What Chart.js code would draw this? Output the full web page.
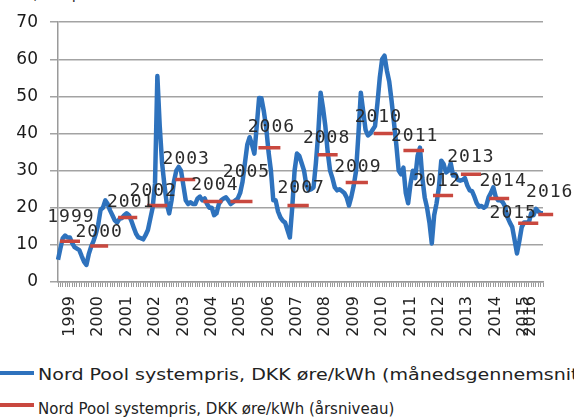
<!DOCTYPE html>
<html>
<head>
<meta charset="utf-8">
<script src="https://cdn.jsdelivr.net/npm/chart.js@4.4.0/dist/chart.umd.min.js"></script>
<style>
  html, body { margin: 0; padding: 0; background: #fff; overflow: hidden; }
  #wrap { position: relative; width: 574px; height: 418px; overflow: hidden; }
  #unit { position: absolute; left: 2px; top: -15px; font: 15px "DejaVu Sans"; color: #333; white-space: nowrap; }
  #chart { position: absolute; left: 0; top: 0; }
  .line { position: absolute; left: 0; width: 34px; height: 4px; }
  .txt { position: absolute; left: 38px; font: 15px/18px "DejaVu Sans"; color: #222; white-space: nowrap; }
  .wide { transform: scaleX(1.27); transform-origin: 0 50%; }
</style>
</head>
<body>
<div id="wrap">
  <div id="unit">DKK, øre pr. kWh</div>
  <canvas id="chart" width="574" height="345"></canvas>
  <div class="line" style="top:371px;background:#2e72bd"></div>
  <div class="txt wide" style="top:366px">Nord Pool systempris, DKK øre/kWh (månedsgennemsnit)</div>
  <div class="line" style="top:403px;background:#c9483f"></div>
  <div class="txt" style="top:400px">Nord Pool systempris, DKK øre/kWh (årsniveau)</div>
</div>
<script>
// year labels on the x axis and the month index they sit under
const yearTicks = ['1999', '2000', '2001', '2002', '2003', '2004', '2005', '2006', '2007',
    '2008', '2009', '2010', '2011', '2012', '2013', '2014', '2015', '2016'];
const yearTickAt = [5, 17, 29, 41, 53, 65, 77, 89, 101, 113, 125, 137, 149, 161, 173, 185, 197, 200];

// monthly system price, DKK øre/kWh
const monthly = [
    6, 9, 11.8, 12.5, 12, 12, 10.5, 9.4, 9, 8.6, 7, 5.5,
    4.6, 7.5, 9.5, 11, 13, 15.5, 19.5, 20, 22, 21, 19.3, 18,
    16.6, 16, 17, 17.2, 18, 18.5, 18, 16.5, 14.7, 13, 12, 11.8,
    11.5, 12.6, 14, 17, 20, 26.5, 55.5, 42, 32, 26, 21, 18.5,
    22, 27, 30, 31, 30, 26, 22, 21, 21.5, 21, 21, 22.5,
    23, 22, 22.5, 21, 20, 20, 18, 18.5, 21, 22, 22.5, 22.8,
    22, 21, 21.5, 22, 22.5, 24, 27, 32, 37, 39, 37, 34.6,
    42, 49.6, 49.5, 46, 41.6, 35, 30, 22, 22, 19, 17.4, 16.5,
    16, 14, 12, 20, 30, 34.6, 34, 32, 30, 26, 24.7, 25,
    25.5, 32, 40, 51, 47, 42, 35, 30, 28, 25.5, 24.7, 25,
    24.5, 24, 22.8, 20.6, 23, 26, 30, 40, 51, 46, 41, 39.5,
    40, 41, 42, 48, 55, 60, 61, 57, 54, 48.8, 43, 37,
    30, 29, 30.8, 24, 21.2, 26.5, 30, 28, 34, 36.2, 28, 22.8,
    20, 16, 10.4, 18, 21.2, 25.5, 32.7, 31.8, 29.5, 30, 32, 28.7,
    29, 27.5, 27.3, 27.5, 28, 26, 24.7, 24.5, 23, 21.2, 20.3, 20.5,
    20, 20.5, 22.8, 24, 25.5, 23, 22, 22, 21.5, 20.3, 17.4, 16,
    14.8, 11.3, 7.7, 11, 14.8, 16, 16, 16, 18.5, 18, 19.7, 19,
    18.5, 18.5
];

// yearly level, DKK øre/kWh, and the span of months each bar covers
const annualYears = ['1999', '2000', '2001', '2002', '2003', '2004', '2005', '2006', '2007',
    '2008', '2009', '2010', '2011', '2012', '2013', '2014', '2015', '2016'];
const annualValues = [11, 9.7, 17.4, 20.6, 27.6, 21.7, 21.7, 36.2, 20.6,
    34.3, 26.8, 40, 35.4, 23.3, 29, 22.5, 15.8, 18.2];
const annualFrom = [0.8, 13.6, 25.4, 37.7, 49.6, 61.4, 72.9, 84.7, 97,
    109.7, 121.6, 133.5, 146, 158.5, 170.3, 182.2, 194.5, 203];
const annualTo = [9.3, 21.2, 33.5, 46.2, 58, 69.5, 82.2, 94, 106,
    118.2, 131, 141.5, 154.7, 167, 178.8, 190.7, 203, 209.3];

// pixel nudges for the year labels (layout only)
const labelNudge = [[1, -19], [0, -9], [3, -10], [-4, -10], [1, -16], [2, -11], [5, -24], [2, -16], [3, -13],
    [-1, -12], [1, -11], [-5, -12], [1, -10], [-6, -10], [0, -12], [4, -12], [-15, -5], [4, -17]];

const xLabels = monthly.map(() => '');
yearTickAt.forEach((at, i) => { xLabels[at] = yearTicks[i]; });

const annualPoints = [];
annualValues.forEach((v, i) => {
    annualPoints.push({ x: annualFrom[i], y: v });
    annualPoints.push({ x: annualTo[i], y: v });
    annualPoints.push({ x: annualTo[i] + 0.01, y: null });
});

const yearLabels = {
    id: 'yearLabels',
    afterDatasetsDraw(chart) {
        const ctx = chart.ctx;
        const sx = chart.scales.x2;
        const sy = chart.scales.y;
        ctx.save();
        ctx.font = '18px "DejaVu Sans Mono"';
        ctx.letterSpacing = '1px';
        ctx.fillStyle = '#2b2b2b';
        ctx.textAlign = 'center';
        ctx.textBaseline = 'alphabetic';
        annualYears.forEach((yr, i) => {
            const cx = sx.getPixelForValue((annualFrom[i] + annualTo[i]) / 2);
            const cy = sy.getPixelForValue(annualValues[i]);
            ctx.fillText(yr, cx + labelNudge[i][0], cy + labelNudge[i][1]);
        });
        ctx.restore();
    }
};

new Chart(document.getElementById('chart').getContext('2d'), {
    type: 'line',
    data: {
        labels: xLabels,
        datasets: [
            {
                label: 'Nord Pool systempris, DKK øre/kWh (årsniveau)',
                data: annualPoints,
                xAxisID: 'x2',
                borderColor: '#c9483f',
                borderWidth: 3.5,
                pointRadius: 0,
                spanGaps: false,
                clip: false,
                order: 0
            },
            {
                label: 'Nord Pool systempris, DKK øre/kWh (månedsgennemsnit)',
                data: monthly,
                borderColor: '#2e72bd',
                borderWidth: 4.5,
                borderJoinStyle: 'round',
                pointRadius: 0,
                tension: 0,
                order: 1
            }
        ]
    },
    options: {
        responsive: false,
        animation: false,
        layout: { padding: { top: 12, right: 31, left: 0, bottom: 0 } },
        plugins: {
            legend: { display: false },
            tooltip: { enabled: false }
        },
        scales: {
            x: {
                afterFit: s => { s.height = 63; },
                grid: { drawOnChartArea: false, tickLength: 5, color: '#9a9a9a' },
                border: { color: '#9a9a9a', width: 1.5 },
                ticks: {
                    autoSkip: false,
                    minRotation: 90,
                    maxRotation: 90,
                    padding: 9,
                    color: '#222',
                    font: { family: 'DejaVu Sans', size: 16 },
                    callback: (v, i) => xLabels[i]
                }
            },
            x2: {
                type: 'linear',
                display: false,
                min: 0,
                max: monthly.length - 1
            },
            y: {
                min: 0,
                max: 70,
                afterFit: s => { s.width = 58; },
                grid: { color: '#a3a3a3', lineWidth: 1.5, tickLength: 8 },
                border: { color: '#9a9a9a', width: 1.5 },
                ticks: {
                    stepSize: 10,
                    padding: 12,
                    color: '#1a1a1a',
                    font: { family: 'DejaVu Sans', size: 17 }
                }
            }
        }
    },
    plugins: [yearLabels]
});
</script>
</body>
</html>
